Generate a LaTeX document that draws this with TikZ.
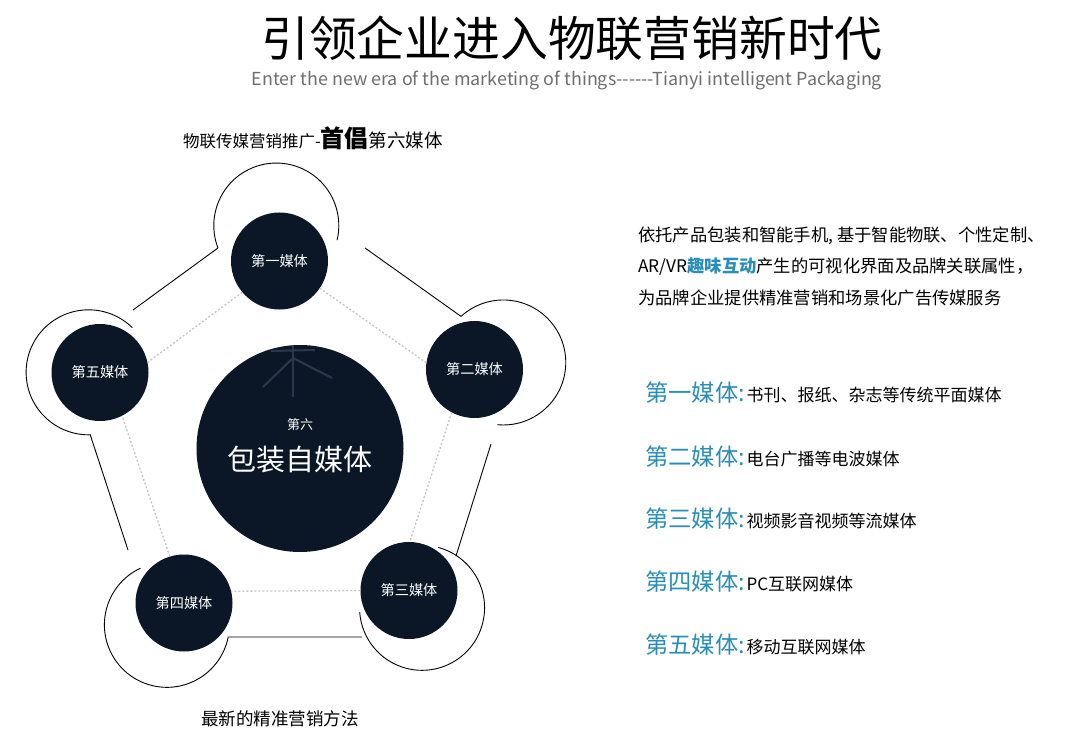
\documentclass[tikz,border=0pt]{standalone}
\usepackage{fontspec}
\setmainfont{Noto Sans CJK SC}
\definecolor{navy}{HTML}{0B1726}
\definecolor{accent}{HTML}{2A8DB8}
\definecolor{subgray}{HTML}{6E6E6E}
\definecolor{markc}{HTML}{2A3949}
\definecolor{dotc}{HTML}{C4C4C4}
\newcommand{\fs}[1]{\fontsize{#1}{#1}\selectfont}
\begin{document}
\begin{tikzpicture}[x=1pt,y=-1pt,
  media/.style={circle,fill=navy,minimum size=97pt,inner sep=0pt,text=white,font=\fs{14.2}},
  ring/.style={circle,minimum size=125pt,inner sep=0pt},
  outline/.style={draw=black,line width=0.9pt},
  dots/.style={draw=dotc,line width=1.3pt,dash pattern=on 2pt off 2pt},
  wm/.style={draw=markc,line width=2pt},
  txt/.style={inner sep=0pt,anchor=west},
  lst/.style={inner sep=0pt,anchor=base west},
]
\useasboundingbox (0,0) rectangle (1070,743);

% titles
\node[inner sep=0pt,font=\fs{47.8}] (title) at (572,38) {引领企业进入物联营销新时代};
\node[inner sep=0pt,font=\fs{17.9},text=subgray] (sub) at (567,80) {Enter the new era of the marketing of things-{}-{}-{}-{}-{}-Tianyi intelligent Packaging};

% top / bottom labels
\node[txt] (toplab) at (183,138) {\fs{16.5}物联传媒营销推广-{\bfseries\fs{24}首倡}{\fs{18.5}第六媒体}};
\node[txt,font=\fs{17.5}] (botlab) at (201,719) {最新的精准营销方法};

% outer rings (invisible nodes, arcs drawn below)
\node[ring] (o1) at (276.5,225.5) {};
\node[ring] (o2) at (503,363) {};
\node[ring] (o3) at (422,608) {};
\node[ring] (o4) at (167,625) {};
\node[ring] (o5) at (88,372) {};

\draw[outline] (o1.201) arc[start angle=201,end angle=-13.5,radius=62.5pt];
\draw[outline] (o2.132.5) arc[start angle=132.5,end angle=-95.5,radius=62.5pt];
\draw[outline] (o3.75) arc[start angle=75,end angle=-176,radius=62.5pt];
\draw[outline] (o4.115) arc[start angle=115,end angle=349,radius=62.5pt];
\draw[outline] (o5.45.6) arc[start angle=45.6,end angle=272,radius=62.5pt];

% free ends of the outer pentagon
\coordinate (a12) at (365,248);
\coordinate (a23) at (491,444);
\coordinate (b23) at (456,556);
\coordinate (a34) at (362,637);
\coordinate (b45) at (128,550);
\coordinate (b51) at (133,310);

\draw[outline] (a12) -- (o2.132.5);
\draw[outline] (a23) -- (b23);
\draw[outline] (a34) -- (o4.-11);
\draw[outline] (o5.272) -- (b45);
\draw[outline] (o1.201) -- (b51);

% media circles
\node[media] (c1) at (279.5,261) {第一媒体};
\node[media] (c2) at (474.5,369.5) {第二媒体};
\node[media] (c3) at (409,590.5) {第三媒体};
\node[media] (c4) at (184,603) {第四媒体};
\node[media] (c5) at (100,372.5) {第五媒体};

% inner dotted pentagon
\draw[dots] (c1.220) -- (c5.12);
\draw[dots] (c1.-34) -- (c2.172);
\draw[dots] (c2.242) -- (c3.89);
\draw[dots] (c3.180) -- (c4.14);
\draw[dots] (c4.107) -- (c5.-63);

% central circle
\node[circle,fill=navy,minimum size=207pt,inner sep=0pt] (c0) at (300,448.5) {};
\begin{scope}
  \clip (c0.center) circle[radius=103.5pt];
  \coordinate (w0) at (293,358);
  \draw[wm] (271,351) -- (315,350);
  \draw[wm] (293,340) -- (293,397);
  \draw[wm] (w0) -- (263,387);
  \draw[wm] (w0) -- (332,378);
\end{scope}
\node[inner sep=0pt,text=white,font=\fs{13}] (c0a) at (300,425) {第六};
\node[inner sep=0pt,text=white,font=\fs{29}] (c0b) at (300,459) {包装自媒体};

% right paragraph
\node[txt,font=\fs{17.3}] (p1) at (638,236) {依托产品包装和智能手机, 基于智能物联、个性定制、};
\node[txt,font=\fs{17.3}] (p2) at (638,267) {AR/VR{\color{accent}\bfseries 趣味互动}产生的可视化界面及品牌关联属性，};
\node[txt,font=\fs{17.3}] (p3) at (638,298) {为品牌企业提供精准营销和场景化广告传媒服务};

% media list
\node[lst] (m1) at (645,401) {{\color{accent}\fs{23.3}第一媒体:}\,{\fs{17}书刊、报纸、杂志等传统平面媒体}};
\node[lst] (m2) at (645,465) {{\color{accent}\fs{23.3}第二媒体:}\,{\fs{17}电台广播等电波媒体}};
\node[lst] (m3) at (645,527) {{\color{accent}\fs{23.3}第三媒体:}\,{\fs{17}视频影音视频等流媒体}};
\node[lst] (m4) at (645,590) {{\color{accent}\fs{23.3}第四媒体:}\,{\fs{17}PC互联网媒体}};
\node[lst] (m5) at (645,653) {{\color{accent}\fs{23.3}第五媒体:}\,{\fs{17}移动互联网媒体}};
\end{tikzpicture}
\end{document}
